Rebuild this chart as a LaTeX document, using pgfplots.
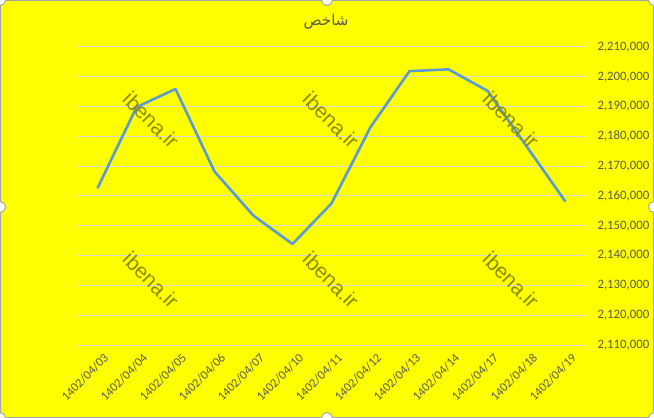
\documentclass[border=0pt]{standalone}
\usepackage{pgfplots}
\pgfplotsset{compat=1.18}
\usepackage{fontspec}
\setmainfont{Carlito}
\newfontfamily\arabicfont[Script=Arabic]{DejaVu Sans}
\newfontfamily\wmfont{Liberation Sans}
\TeXXeTstate=1
\definecolor{bg}{HTML}{FFFF00}
\definecolor{txt}{HTML}{595959}
\definecolor{gridc}{HTML}{D9D9D9}
\definecolor{line}{HTML}{5B9BD5}
\definecolor{wm}{HTML}{8C8C00}
\definecolor{frame}{HTML}{A6A6A6}
\begin{document}
\begin{tikzpicture}[x=1pt,y=1pt]
\useasboundingbox (0,0) rectangle (654,418);
\fill[bg] (0,0) rectangle (654,418);
\draw[frame, line width=1pt] (0.5,0.5) rectangle (653.5,417.5);
\begin{axis}[
  at={(78pt,73pt)}, anchor=south west,
  scale only axis, width=507pt, height=298pt,
  xmin=-0.5, xmax=12.5,
  ymin=2110000, ymax=2210000,
  ytick={2110000,2120000,2130000,2140000,2150000,2160000,2170000,2180000,2190000,2200000,2210000},
  scaled y ticks=false,
  xtick={0,...,12},
  xticklabels={1402/04/03,1402/04/04,1402/04/05,1402/04/06,1402/04/07,1402/04/10,1402/04/11,1402/04/12,1402/04/13,1402/04/14,1402/04/17,1402/04/18,1402/04/19},
  axis line style={draw=none},
  major tick length=0pt,
  ymajorgrids,
  grid style={color=gridc, line width=1pt},
  yticklabel pos=right,
  yticklabel style={anchor=west, xshift=9pt, text=txt, font=\fontsize{12.8}{13}\selectfont,
    /pgf/number format/.cd, fixed, precision=0, 1000 sep={,}, assume math mode=true},
  xticklabel style={rotate=45, anchor=east, xshift=2pt, yshift=-14pt, text=txt, font=\fontsize{12.5}{13}\selectfont},
]
\addplot[line, line width=2.6pt, line join=round, mark=none] coordinates {
(0,2162600) (1,2189800) (2,2195900) (3,2168200) (4,2153400) (5,2143900)
(6,2157500) (7,2183100) (8,2201900) (9,2202500) (10,2195300) (11,2176700) (12,2158100)
};
\end{axis}
\node[text=txt, font=\arabicfont\fontsize{15}{15}\selectfont] at (326,396) {\beginR شاخص\endR};
\foreach \cx in {151,331,511}{
  \foreach \cy in {298,138}{
    \node[rotate=-45, text=wm, font=\wmfont\fontsize{21}{21}\selectfont] at (\cx,\cy) {ibena.ir};
  }
}
\foreach \hx/\hy in {0/0,327/0,654/0,0/211,654/211,0/418,327/418,654/418}{
  \draw[frame, fill=white, line width=1pt] (\hx,\hy) circle (5.5);
}
\end{tikzpicture}
\end{document}
